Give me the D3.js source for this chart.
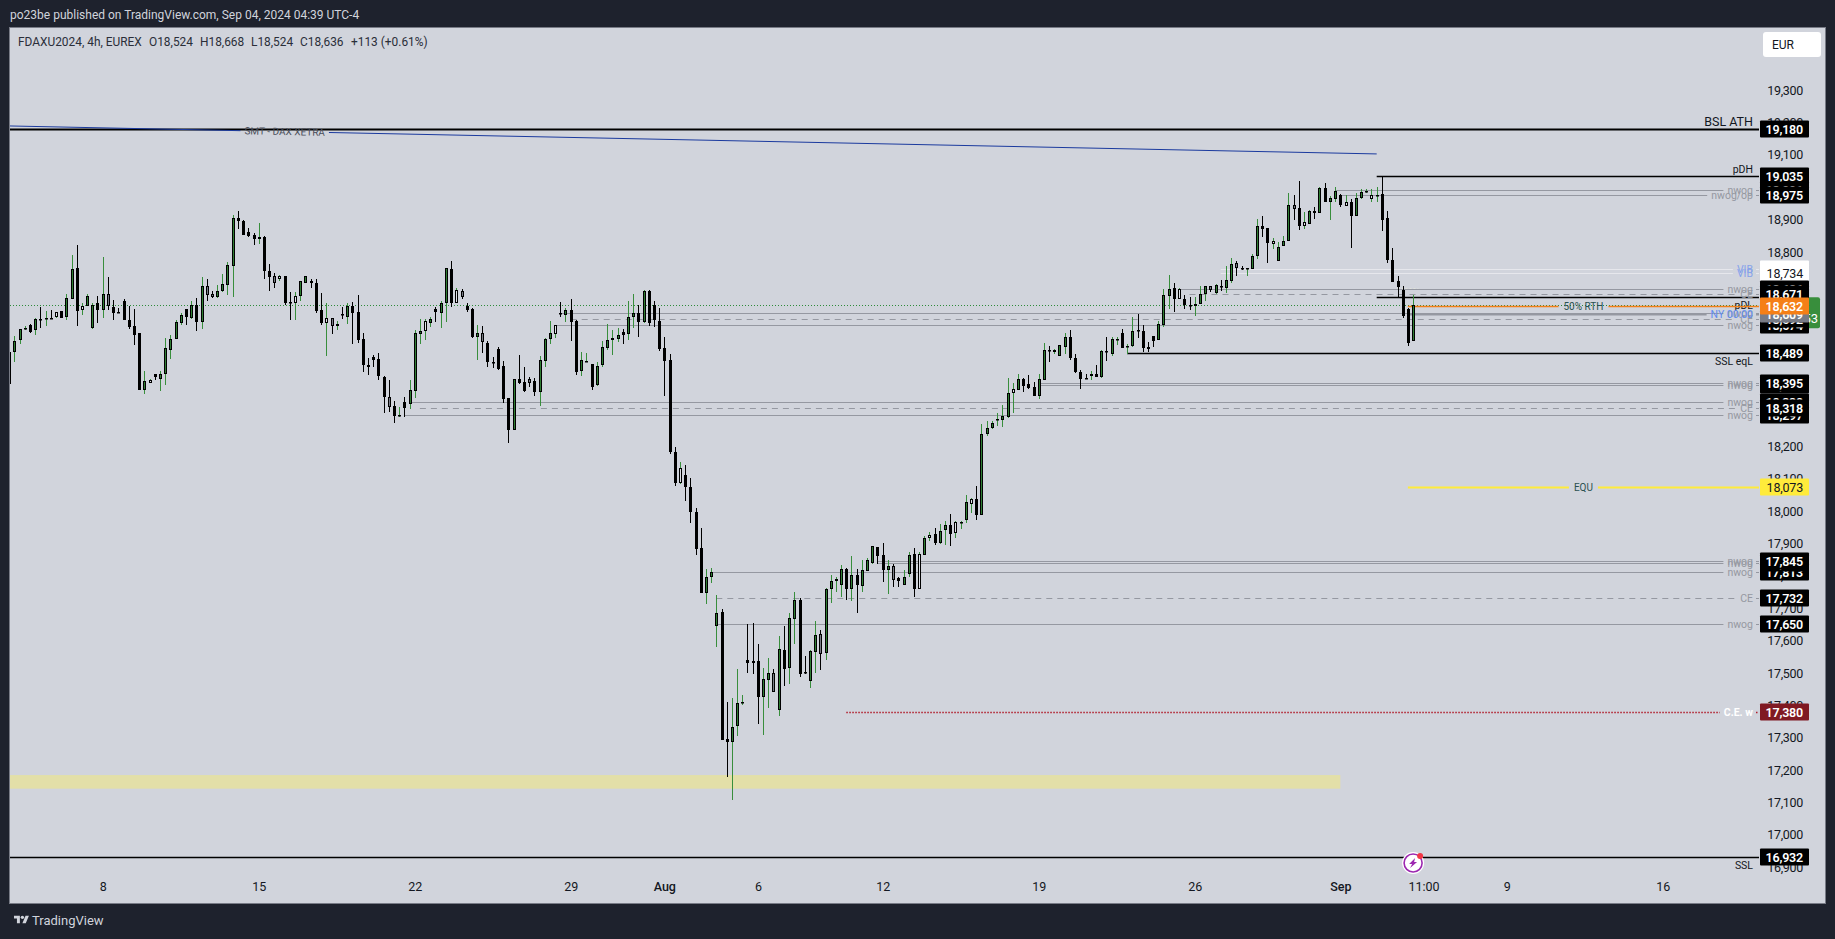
<!DOCTYPE html>
<html>
<head>
<meta charset="utf-8">
<title>FDAXU2024 4h</title>
<script src="https://cdnjs.cloudflare.com/ajax/libs/d3/7.8.5/d3.min.js"></script>
<style>
  html, body { margin: 0; padding: 0; background: #1e222d; overflow: hidden; }
  svg { display: block; }
  text { font-family: Roboto, "Noto Sans", sans-serif; }
</style>
</head>
<body>
<svg id="chart"></svg>
<script>
// u = green body, d = black body, w = pale body, g = grey body, n = black body with green wick
const kinds = ('d ' +
  'u u n d u d n d w d ' + 'u u d w u u d u g d ' + 'd d d d d u w d u u ' + 'u u u d u d u g g u ' +
  'u u u d d d d w d d ' + 'g w d d w u u d d d ' + 'w g n d u d d d d d ' + 'd d g d n d u u u w ' +
  'u d u u d w g d d u ' + 'g d d d d d u d d g ' + 'd u u u w d u d d u ' + 'n d u u u u u d u u ' +
  'd u d d d d d d w d ' + 'd d d u u u d d u u ' + 'n d d d u u g u d u ' + 'u d d u u g u u w u ' +
  'd u d u u u d d u g ' + 'd u u d w u w d u u ' + 'd w n u w d u u u n ' + 'u u w u d d d u u d ' +
  'w u u d d d d n d u ' + 'd u n d n u d d d d ' + 'u u u d w d d u u u ' + 'g u d u u g d n u u ' +
  'd d w u u u g d w u ' + 'd u d u u d w d u u ' + 'n w n d d d d d d u').split(' ');

const opens = [18491,
  18490,18527,18563,18574,18558,18594,18592,18597,18598,18617,
  18598,18656,18750,18622,18633,18564,18642,18622,18670,18630,
  18615,18648,18590,18572,18549,18374,18397,18424,18408,18422,
  18499,18533,18582,18625,18595,18636,18585,18694,18670,18660,
  18681,18697,18758,18904,18895,18861,18852,18839,18847,18741,
  18725,18718,18725,18646,18644,18663,18706,18711,18704,18620,
  18582,18596,18573,18609,18601,18633,18615,18531,18451,18475,
  18469,18415,18352,18324,18295,18336,18332,18372,18548,18555,
  18582,18625,18613,18644,18747,18644,18679,18633,18625,18539,
  18549,18519,18461,18501,18448,18349,18252,18407,18398,18407,
  18401,18369,18465,18530,18548,18612,18607,18620,18587,18434,
  18462,18455,18388,18450,18505,18527,18533,18554,18548,18598,
  18612,18585,18679,18635,18586,18503,18467,18182,18088,18111,
  18074,17998,17885,17747,17797,17646,17689,17296,17288,17335,
  17408,17541,17536,17536,17427,17480,17499,17387,17570,17517,
  17668,17727,17502,17474,17566,17620,17562,17761,17783,17773,
  17820,17761,17802,17769,17816,17841,17888,17864,17819,17830,
  17792,17773,17807,17869,17761,17865,17918,17929,17902,17941,
  17956,17933,17963,17973,18023,18037,17989,18239,18256,18282,
  18282,18291,18365,18375,18407,18394,18383,18356,18406,18499,
  18492,18480,18508,18537,18474,18431,18410,18418,18422,18415,
  18494,18485,18528,18550,18507,18510,18559,18556,18507,18541,
  18529,18575,18664,18689,18655,18654,18638,18633,18641,18671,
  18694,18674,18695,18689,18712,18765,18752,18748,18749,18789,
  18880,18873,18826,18773,18820,18835,18944,18935,18880,18887,
  18927,18921,18997,18954,18965,18976,18943,18956,18912,18967,
  18985,18965,18973,18979,18904,18777,18710,18683,18624,18524];

const highs = [18491,
  18541,18562,18572,18577,18597,18629,18618,18621,18615,18617,
  18671,18791,18822,18643,18671,18643,18665,18785,18723,18652,
  18628,18655,18634,18625,18549,18433,18407,18424,18432,18535,
  18544,18590,18611,18625,18649,18658,18723,18717,18679,18699,
  18733,18770,18915,18927,18898,18875,18859,18890,18849,18763,
  18735,18728,18725,18676,18676,18711,18725,18716,18717,18674,
  18643,18596,18586,18631,18643,18645,18668,18549,18473,18481,
  18488,18416,18405,18341,18322,18353,18404,18559,18594,18593,
  18600,18631,18648,18751,18773,18689,18685,18643,18627,18575,
  18572,18526,18476,18507,18463,18349,18408,18483,18445,18415,
  18412,18479,18535,18587,18575,18646,18628,18655,18589,18492,
  18489,18455,18461,18526,18578,18560,18566,18562,18649,18671,
  18637,18683,18683,18649,18628,18538,18484,18197,18152,18143,
  18102,18009,17948,17821,17825,17740,17698,17411,17423,17512,
  17432,17651,17654,17590,17516,17547,17512,17615,17645,17686,
  17749,17731,17553,17570,17661,17632,17762,17803,17796,17834,
  17823,17861,17821,17850,17855,17891,17889,17902,17850,17837,
  17797,17818,17874,17886,17874,17924,17935,17948,17960,17968,
  17991,17971,17971,18050,18040,18077,18269,18278,18277,18303,
  18327,18411,18395,18423,18411,18420,18398,18423,18519,18509,
  18500,18512,18550,18559,18484,18435,18423,18432,18451,18497,
  18538,18538,18538,18562,18516,18599,18609,18575,18522,18541,
  18587,18686,18729,18704,18689,18667,18661,18661,18695,18695,
  18695,18701,18714,18757,18781,18772,18757,18751,18794,18902,
  18911,18874,18843,18831,18849,18982,18976,19019,18923,18930,
  18939,19001,19013,18973,19001,18979,18976,18964,18982,18994,
  18994,18994,19001,19034,18927,18812,18726,18695,18627,18668];

const lows = [18393,
  18462,18517,18558,18551,18545,18566,18572,18594,18597,18595,
  18591,18656,18572,18606,18632,18563,18582,18597,18621,18591,
  18612,18591,18563,18513,18374,18362,18396,18405,18371,18390,
  18470,18532,18576,18575,18592,18557,18563,18649,18657,18657,
  18678,18668,18662,18871,18853,18848,18822,18825,18717,18680,
  18689,18711,18637,18589,18591,18649,18706,18689,18613,18575,
  18480,18547,18560,18594,18578,18516,18520,18430,18421,18445,
  18405,18303,18307,18273,18291,18291,18316,18350,18516,18529,
  18569,18584,18566,18584,18631,18642,18655,18615,18535,18467,
  18489,18445,18442,18436,18334,18210,18251,18393,18368,18384,
  18356,18325,18445,18516,18535,18600,18584,18526,18421,18418,
  18461,18374,18387,18445,18498,18483,18523,18516,18529,18566,
  18538,18580,18572,18569,18495,18356,18176,18078,18083,18031,
  17963,17864,17747,17713,17779,17580,17292,17179,17108,17306,
  17402,17500,17497,17342,17309,17392,17442,17367,17460,17466,
  17590,17487,17497,17454,17500,17509,17541,17716,17750,17735,
  17725,17722,17686,17750,17814,17837,17837,17782,17744,17766,
  17766,17772,17797,17735,17761,17864,17909,17896,17900,17895,
  17892,17917,17944,17963,17994,17973,17988,18232,18254,18263,
  18259,18288,18303,18374,18367,18377,18355,18346,18405,18460,
  18486,18480,18485,18467,18426,18377,18408,18405,18414,18411,
  18464,18479,18513,18504,18485,18508,18534,18491,18491,18507,
  18528,18568,18624,18615,18655,18624,18621,18602,18641,18649,
  18677,18670,18680,18673,18704,18726,18744,18726,18748,18778,
  18846,18766,18809,18772,18819,18834,18899,18868,18871,18886,
  18902,18920,18954,18899,18954,18939,18942,18812,18911,18964,
  18982,18954,18954,18865,18766,18707,18661,18596,18510,18524];

const closes = [18393,
  18525,18562,18566,18553,18593,18592,18597,18595,18614,18595,
  18657,18747,18619,18633,18664,18638,18621,18670,18632,18613,
  18613,18591,18569,18545,18374,18401,18404,18415,18423,18503,
  18531,18583,18605,18598,18636,18585,18694,18666,18660,18679,
  18701,18759,18904,18897,18854,18851,18839,18846,18740,18724,
  18706,18725,18644,18644,18664,18710,18725,18703,18619,18581,
  18596,18573,18577,18607,18633,18613,18529,18450,18446,18468,
  18416,18351,18323,18295,18297,18320,18373,18549,18556,18586,
  18593,18616,18642,18750,18644,18682,18660,18621,18538,18549,
  18521,18459,18459,18439,18347,18251,18407,18396,18371,18397,
  18369,18466,18531,18549,18574,18610,18620,18585,18431,18466,
  18463,18384,18448,18506,18528,18534,18543,18545,18599,18611,
  18585,18679,18582,18589,18501,18465,18183,18088,18132,18073,
  17996,17883,17747,17798,17811,17685,17293,17288,17333,17407,
  17410,17532,17532,17427,17481,17499,17442,17573,17513,17669,
  17727,17498,17499,17567,17617,17560,17759,17783,17789,17820,
  17761,17802,17773,17817,17849,17891,17862,17819,17830,17788,
  17783,17798,17866,17761,17867,17916,17926,17902,17940,17956,
  17930,17965,17965,18027,18036,17988,18237,18258,18271,18284,
  18295,18366,18376,18407,18387,18380,18355,18407,18499,18495,
  18499,18512,18537,18474,18429,18408,18408,18422,18415,18493,
  18492,18531,18530,18504,18509,18556,18557,18504,18501,18525,
  18577,18666,18685,18655,18685,18636,18636,18641,18672,18694,
  18684,18697,18693,18713,18762,18752,18750,18750,18787,18879,
  18871,18829,18833,18817,18833,18944,18933,18881,18892,18926,
  18921,18997,18955,18966,18990,18945,18956,18912,18966,18984,
  18988,18975,18975,18899,18775,18707,18692,18602,18519,18636];

const priceTicks = [19300,19200,19100,19000,18900,18800,18700,18600,18500,18400,18300,18200,18100,18000,
  17900,17800,17700,17600,17500,17400,17300,17200,17100,17000,16900];

const timeTickBars = [18,48,78,108,126,144,168,198,228,256,272,288,318];
const timeTickLabels = ['8','15','22','29','Aug','6','12','19','26','Sep','11:00','9','16'];

// horizontal levels, in drawing order (later ones lie on top at the axis)
const levelNames = ['BSL ATH','pDH','nwog','nwog/op','VIB','VIB','nwog','pDL','nwog','nwog','CE','NY 00:00',
  'CE','50% RTH','SSL eqL','nwog','nwog','nwog','nwog','CE','EQU','nwog','nwog','nwog','CE','nwog','C.E. w','SSL'];
const levelPrices = [19180,19035,18991,18975,18749,18734,18686,18661,18574,18611,18592,18609,
  18671,18632,18489,18388,18395,18338,18297,18318,18073,17813,17840,17845,17732,17650,17380,16932];
const levelStarts = [0,263,255,256,233,233,225,263,105,106,108,269,
  227,269,215,198,198,77,76,79,269,135,167,167,136,136,161,0];
const levelKinds = ['ath','pdh','nwog','nwog','vib','vib','nwog','pdl','nwog','nwog','ce','ny',
  'ce','rth','ssl','nwog','nwog','nwog','nwog','ce','equ','nwog','nwog','nwog','ce','nwog','cew','ssl'];

// SMT trend line
const trendBars = [-157,263];
const trendPrices = [19241,19103];

// the pale zone at the low
const zoneBars = [0,256];
const zonePrices = [17185,17143];

const lastClose = 18636;
const countdown = '01:20:53';
const dottedPrice = 18685;
const dottedBars = [267,271];

const legendParts = ['FDAXU2024, 4h, EUREX','O18,524','H18,668','L18,524','C18,636','+113 (+0.61%)'];
const legendX = [18,149,200,251,300,351];

class CandleChart {

  constructor(_config) {
    this.config = {
      parentElement: _config.parentElement,
      containerWidth: 1835,
      containerHeight: 939,
      panel: {left: 10, top: 28, right: 1825, bottom: 903},
      plotRight: 1759,
      boxLeft: 1760,
      boxWidth: 49,
      boxHeight: 17
    };
    this.styles = {
      ath:  {stroke: '#000000', width: 2,   box: '#000000', boxText: '#ffffff', text: '#131722', size: 12.5, place: 'above'},
      pdh:  {stroke: '#000000', width: 1.5, box: '#000000', boxText: '#ffffff', text: '#131722', size: 10.5, place: 'above'},
      pdl:  {stroke: '#000000', width: 1.5, box: '#000000', boxText: '#ffffff', text: '#131722', size: 10.5, place: 'below'},
      ssl:  {stroke: '#000000', width: 1.5, box: '#000000', boxText: '#ffffff', text: '#131722', size: 10.5, place: 'below'},
      nwog: {stroke: '#9598a1', width: 1, box: '#000000', boxText: '#ffffff', text: '#9598a1', size: 10.5, place: 'inline'},
      ce:   {stroke: '#9598a1', width: 1, dash: '6,5', box: '#000000', boxText: '#ffffff', text: '#9598a1', size: 10.5, place: 'inline'},
      vib:  {stroke: '#e6e7ec', width: 1, box: '#ffffff', boxText: '#131722', text: '#86a2ea', size: 10.5, place: 'inline'},
      ny:   {stroke: '#9598a1', width: 2, box: '#787b86', boxText: '#ffffff', text: '#5f8cf0', size: 10.5, place: 'inline'},
      rth:  {stroke: '#f57f17', width: 1.5, box: '#f57f17', boxText: '#ffffff', text: '#2b5150', size: 10, place: 'middle'},
      equ:  {stroke: '#ffeb3b', width: 2,   box: '#ffeb3b', boxText: '#131722', text: '#2b5150', size: 10, place: 'middle'},
      cew:  {stroke: '#b01c2a', width: 1.4, dash: '1.5,1.5', box: '#801922', boxText: '#ffffff', text: '#ffffff', size: 10.5, place: 'inline', bold: true}
    };
    this.bars = opens.map((o, i) => ({i, kind: kinds[i], o, h: highs[i], l: lows[i], c: closes[i]}));
    this.initVis();
  }

  /**
   * Scales, axes and the static frame
   */
  initVis() {
    let vis = this;
    const c = vis.config;

    vis.xScale = d3.scaleLinear().domain([0, 270]).range([9.1, 1413.1]);
    vis.yScale = d3.scaleLinear().domain([16932, 19180]).range([857, 129]);

    vis.svg = d3.select(c.parentElement)
        .attr('width', c.containerWidth)
        .attr('height', c.containerHeight);

    vis.svg.append('rect')
        .attr('width', c.containerWidth)
        .attr('height', c.containerHeight)
        .attr('fill', '#1e222d');

    vis.svg.append('rect')
        .attr('x', c.panel.left - 0.5)
        .attr('y', c.panel.top - 0.5)
        .attr('width', c.panel.right - c.panel.left + 1)
        .attr('height', c.panel.bottom - c.panel.top + 1)
        .attr('fill', '#d1d4dc')
        .attr('stroke', '#787b86');

    vis.svg.append('defs').append('clipPath')
        .attr('id', 'plot-clip')
      .append('rect')
        .attr('x', c.panel.left)
        .attr('y', c.panel.top)
        .attr('width', c.plotRight - c.panel.left)
        .attr('height', c.panel.bottom - c.panel.top);

    vis.plot = vis.svg.append('g').attr('clip-path', 'url(#plot-clip)');

    vis.renderHeader();
    vis.renderZone();
    vis.renderLevels();
    vis.renderTrend();
    vis.renderCandles();
    vis.renderAxes();
    vis.renderBoxes();
    vis.renderIcon();
  }

  renderHeader() {
    let vis = this;

    vis.svg.append('text')
        .attr('x', 10).attr('y', 19)
        .attr('font-size', 12)
        .attr('fill', '#d1d4dc')
        .text('po23be published on TradingView.com, Sep 04, 2024 04:39 UTC-4');

    vis.svg.selectAll('.legend')
        .data(legendParts)
      .join('text')
        .attr('class', 'legend')
        .attr('x', (d, i) => legendX[i])
        .attr('y', 46)
        .attr('font-size', 11.9)
        .attr('fill', '#2a2e39')
        .text(d => d);

    // currency button
    vis.svg.append('rect')
        .attr('x', 1763).attr('y', 32)
        .attr('width', 58).attr('height', 25)
        .attr('rx', 3)
        .attr('fill', '#ffffff');
    vis.svg.append('text')
        .attr('x', 1772).attr('y', 49)
        .attr('font-size', 12)
        .attr('fill', '#131722')
        .text('EUR');

    // footer logo
    const logo = vis.svg.append('g')
        .attr('transform', 'translate(14,914) scale(0.42)')
        .attr('fill', '#d1d4dc');
    logo.append('path').attr('d', 'M14 22H7V11H0V4h14v18zM28 22h-8l7.5-18h8L28 22z');
    logo.append('circle').attr('cx', 20).attr('cy', 8).attr('r', 4);

    vis.svg.append('text')
        .attr('x', 32).attr('y', 925)
        .attr('font-size', 13)
        .attr('fill', '#d1d4dc')
        .text('TradingView');
  }

  renderZone() {
    let vis = this;

    vis.plot.append('rect')
        .attr('x', vis.xScale(zoneBars[0]))
        .attr('y', vis.yScale(zonePrices[0]))
        .attr('width', vis.xScale(zoneBars[1]) - vis.xScale(zoneBars[0]))
        .attr('height', vis.yScale(zonePrices[1]) - vis.yScale(zonePrices[0]))
        .attr('fill', '#e3dfa8');
  }

  renderLevels() {
    let vis = this;
    const c = vis.config;

    // close price, dotted
    vis.plot.append('line')
        .attr('x1', c.panel.left).attr('x2', c.plotRight)
        .attr('y1', Math.round(vis.yScale(lastClose)) + 0.5)
        .attr('y2', Math.round(vis.yScale(lastClose)) + 0.5)
        .attr('stroke', '#2e8b3a')
        .attr('stroke-width', 1.2)
        .attr('stroke-dasharray', '1,2');

    vis.plot.append('line')
        .attr('x1', vis.xScale(dottedBars[0])).attr('x2', vis.xScale(dottedBars[1]))
        .attr('y1', vis.yScale(dottedPrice)).attr('y2', vis.yScale(dottedPrice))
        .attr('stroke', '#eeeeda')
        .attr('stroke-width', 1.5)
        .attr('stroke-dasharray', '2,2');

    levelNames.forEach((name, i) => {
      const st = vis.styles[levelKinds[i]];
      const y = Math.round(vis.yScale(levelPrices[i])) + 0.5;
      const x0 = vis.xScale(levelStarts[i]);
      const midX = (x0 + c.plotRight) / 2;

      const label = vis.plot.append('text')
          .attr('font-size', st.size)
          .attr('font-weight', st.bold ? 700 : 400)
          .attr('fill', st.text)
          .text(name);

      const w = label.node().getComputedTextLength();
      let gap = null;
      if (st.place === 'middle') {
        label.attr('x', midX).attr('y', y).attr('dy', '.35em').attr('text-anchor', 'middle');
        gap = [midX - w / 2 - 5, midX + w / 2 + 5];
      } else if (st.place === 'inline') {
        label.attr('x', c.plotRight - 6).attr('y', y).attr('dy', '.35em').attr('text-anchor', 'end');
        gap = [c.plotRight - 6 - w - 4, c.plotRight - 3];
      } else if (st.place === 'above') {
        label.attr('x', c.plotRight - 6).attr('y', y - 4).attr('text-anchor', 'end');
      } else {
        label.attr('x', c.plotRight - 6).attr('y', y + st.size + 1).attr('text-anchor', 'end');
      }

      const segments = gap ? [[x0, gap[0]], [gap[1], c.plotRight]] : [[x0, c.plotRight]];
      vis.plot.selectAll(null)
          .data(segments)
        .join('line')
          .attr('x1', d => d[0]).attr('x2', d => d[1])
          .attr('y1', y).attr('y2', y)
          .attr('stroke', st.stroke)
          .attr('stroke-width', st.width)
          .attr('stroke-dasharray', st.dash || null);
    });
  }

  renderTrend() {
    let vis = this;

    const x0 = vis.xScale(trendBars[0]), x1 = vis.xScale(trendBars[1]);
    const y0 = vis.yScale(trendPrices[0]), y1 = vis.yScale(trendPrices[1]);
    const mx = (x0 + x1) / 2, my = (y0 + y1) / 2;
    const angle = Math.atan2(y1 - y0, x1 - x0);

    const label = vis.plot.append('text')
        .attr('transform', `translate(${mx},${my}) rotate(${angle * 180 / Math.PI})`)
        .attr('dy', '.35em')
        .attr('text-anchor', 'middle')
        .attr('font-size', 10)
        .attr('fill', '#4a4e5a')
        .text('SMT - DAX XETRA');

    const half = label.node().getComputedTextLength() / 2 + 4;
    const ends = [[x0, y0, mx - half, my - half * Math.tan(angle)], [mx + half, my + half * Math.tan(angle), x1, y1]];

    vis.plot.selectAll('.trend')
        .data(ends)
      .join('line')
        .attr('class', 'trend')
        .attr('x1', d => d[0]).attr('y1', d => d[1])
        .attr('x2', d => d[2]).attr('y2', d => d[3])
        .attr('stroke', '#1b3a9e')
        .attr('stroke-width', 1);
  }

  renderCandles() {
    let vis = this;
    const bodyFill = {u: '#2e7d32', d: '#000000', n: '#000000', w: '#dfe1e7', g: '#787b86'};
    const wickFill = {u: '#388e3c', w: '#388e3c', n: '#388e3c', d: '#000000', g: '#000000'};
    const px = d => Math.round(vis.xScale(d.i));
    const py = v => Math.round(vis.yScale(v));

    vis.plot.selectAll('.wick')
        .data(vis.bars)
      .join('rect')
        .attr('class', 'wick')
        .attr('x', px)
        .attr('y', d => py(d.h))
        .attr('width', 1)
        .attr('height', d => Math.max(py(d.l) - py(d.h), 1))
        .attr('fill', d => wickFill[d.kind]);

    vis.plot.selectAll('.body')
        .data(vis.bars)
      .join('rect')
        .attr('class', 'body')
        .attr('x', d => px(d) - 0.5)
        .attr('y', d => py(Math.max(d.o, d.c)) + 0.5)
        .attr('width', 2)
        .attr('height', d => Math.max(py(Math.min(d.o, d.c)) - py(Math.max(d.o, d.c)) - 1, 0.5))
        .attr('fill', d => bodyFill[d.kind])
        .attr('stroke', '#000000');
  }

  renderAxes() {
    let vis = this;

    const yAxis = d3.axisRight(vis.yScale)
        .tickValues(priceTicks)
        .tickSize(0)
        .tickFormat(d3.format(','));

    const yAxisG = vis.svg.append('g')
        .attr('class', 'axis y-axis')
        .attr('transform', 'translate(1803,0)')
        .call(yAxis);
    yAxisG.select('.domain').remove();
    yAxisG.selectAll('text')
        .attr('x', 0)
        .attr('text-anchor', 'end')
        .attr('font-family', 'Roboto, sans-serif')
        .attr('font-size', 12.5)
        .attr('letter-spacing', '-0.3px')
        .attr('fill', '#131722');

    const xAxis = d3.axisBottom(vis.xScale)
        .tickValues(timeTickBars)
        .tickSize(0)
        .tickFormat((d, i) => timeTickLabels[i]);

    const xAxisG = vis.svg.append('g')
        .attr('class', 'axis x-axis')
        .attr('transform', 'translate(0,879)')
        .call(xAxis);
    xAxisG.select('.domain').remove();
    xAxisG.selectAll('text')
        .attr('font-family', 'Roboto, sans-serif')
        .attr('font-size', 12.5)
        .attr('font-weight', d => (d === 126 || d === 256) ? 500 : 400)
        .attr('fill', '#131722');
  }

  renderBoxes() {
    let vis = this;
    const c = vis.config;
    const fmt = d3.format(',');

    // last price label sits behind everything, only its right edge shows
    const closeY = vis.yScale(lastClose);
    vis.svg.append('rect')
        .attr('x', c.boxLeft).attr('y', closeY - 8)
        .attr('width', 60).attr('height', 31)
        .attr('rx', 2)
        .attr('fill', '#388e3c');
    vis.svg.append('text')
        .attr('x', 1818).attr('y', closeY + 18)
        .attr('text-anchor', 'end')
        .attr('font-size', 13)
        .attr('fill', '#ffffff')
        .text(countdown);

    const boxes = levelPrices.map((p, i) => ({p, st: vis.styles[levelKinds[i]]}));
    const g = vis.svg.selectAll('.price-box')
        .data(boxes)
      .join('g')
        .attr('class', 'price-box')
        .attr('transform', d => `translate(${c.boxLeft},${Math.round(vis.yScale(d.p))})`);

    g.append('rect')
        .attr('y', -c.boxHeight / 2)
        .attr('width', c.boxWidth)
        .attr('height', c.boxHeight)
        .attr('rx', 1)
        .attr('fill', d => d.st.box);

    g.append('text')
        .attr('x', 43)
        .attr('dy', '.36em')
        .attr('text-anchor', 'end')
        .attr('font-size', 12.5)
        .attr('letter-spacing', '-0.2px')
        .attr('font-weight', d => d.st.boxText === '#ffffff' ? 600 : 400)
        .attr('fill', d => d.st.boxText)
        .text(d => fmt(d.p));
  }

  renderIcon() {
    let vis = this;

    const icon = vis.svg.append('g')
        .attr('transform', `translate(${vis.xScale(270)},863)`);
    icon.append('circle').attr('r', 11).attr('fill', '#ffffff');
    icon.append('circle').attr('r', 9).attr('fill', 'none').attr('stroke', '#9c27b0').attr('stroke-width', 1.6);
    icon.append('path')
        .attr('d', 'M2,-5 L-4,1 L-1,1 L-3,5 L4,-1 L1,-1 Z')
        .attr('fill', '#9c27b0');
    icon.append('circle').attr('cx', 7).attr('cy', -7).attr('r', 3).attr('fill', '#f23645');
  }
}

new CandleChart({parentElement: '#chart'});
</script>
</body>
</html>
